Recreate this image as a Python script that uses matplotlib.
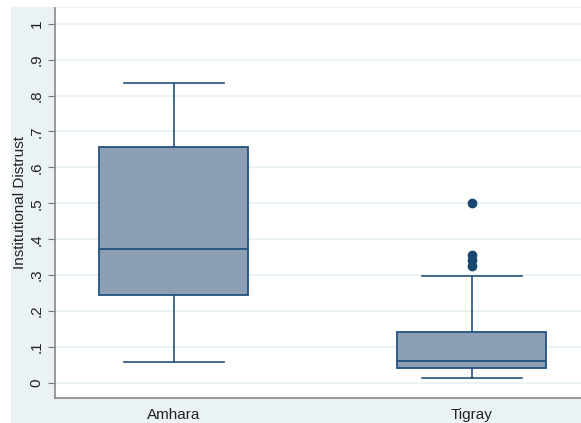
import matplotlib
matplotlib.use("Agg")
import matplotlib.pyplot as plt
from matplotlib.patches import Rectangle

plt.rcParams["font.family"] = ["Liberation Sans", "DejaVu Sans"]

categories = ["Amhara", "Tigray"]
whisker_low = [0.057, 0.014]
q1 = [0.244, 0.042]
median = [0.374, 0.061]
q3 = [0.658, 0.142]
whisker_high = [0.834, 0.298]
outliers = [[], [0.501, 0.357, 0.343, 0.326]]
yticks = [0, .1, .2, .3, .4, .5, .6, .7, .8, .9, 1]
ytick_labels = ["0", ".1", ".2", ".3", ".4", ".5", ".6", ".7", ".8", ".9", "1"]

navy = "#24527e"
fill = "#8d9fb4"
bg = "#eaf2f3"

fig = plt.figure(figsize=(5.81, 4.23), dpi=100, facecolor="white")
fig.patches.append(Rectangle((11/581, 0), 1 - 11/581, 1 - 7/423, transform=fig.transFigure,
                             facecolor=bg, edgecolor="none", zorder=-10))
ax = fig.add_axes([54.5/581, 25/423, 1 - 54.5/581, (398 - 7.5)/423])
ax.set_facecolor("white")

stats = []
for i, c in enumerate(categories):
    stats.append(dict(label=c, whislo=whisker_low[i], q1=q1[i], med=median[i],
                      q3=q3[i], whishi=whisker_high[i], fliers=outliers[i]))

ax.bxp(stats, positions=[1, 2], widths=0.5, capwidths=0.335, patch_artist=True,
       boxprops=dict(facecolor=fill, edgecolor=navy, linewidth=1.3),
       medianprops=dict(color=navy, linewidth=1.3),
       whiskerprops=dict(color=navy, linewidth=1.2),
       capprops=dict(color=navy, linewidth=1.2),
       flierprops=dict(marker="o", markerfacecolor="#1a476f", markeredgecolor="#1a476f", markersize=6))

ax.set_xlim(0.599, 2.366)
ax.set_ylim(-0.042, 1.045)
ax.set_yticks(yticks)
ax.set_yticklabels(ytick_labels, rotation=90, va="center", fontsize=11, color="#222222")
ax.tick_params(axis="y", length=5, color="#777777", pad=3)
ax.tick_params(axis="x", length=0, pad=7, labelsize=11, colors="#222222")
ax.set_xticks([1, 2])
ax.set_xticklabels(categories)
ax.grid(axis="y", color=bg, linewidth=1.5)
ax.set_axisbelow(True)
for s in ["top", "right"]:
    ax.spines[s].set_visible(False)
for s in ["left", "bottom"]:
    ax.spines[s].set_color("#888888")
    ax.spines[s].set_linewidth(1.2)
ax.set_ylabel("Institutional Distrust", fontsize=11, color="#222222", labelpad=2)

fig.savefig("out.png", dpi=100, facecolor="white")
